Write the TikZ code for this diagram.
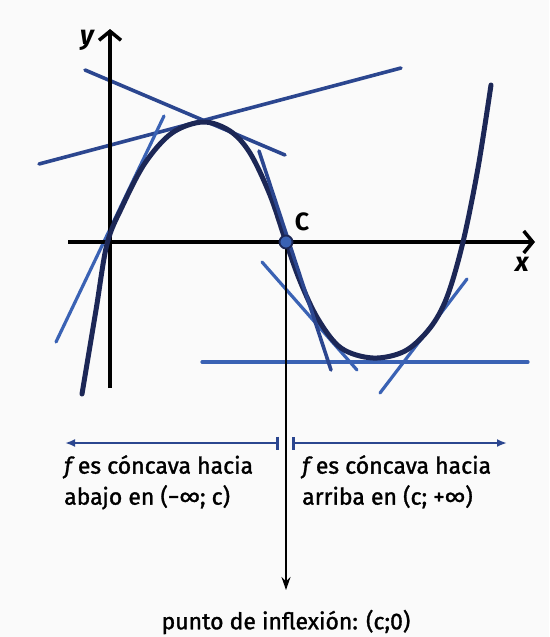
\documentclass[tikz,border=0pt]{standalone}
\usepackage{fontspec}
\setmainfont{Fira Sans}
\newfontfamily\medfont{Fira Sans}[FakeBold=1.3]
\usetikzlibrary{arrows.meta}
\definecolor{navy}{HTML}{1C2756}
\definecolor{tandark}{HTML}{2B468F}
\definecolor{tanlight}{HTML}{3A62B4}
\definecolor{bg}{HTML}{FAFAFA}
\tikzset{
  axis/.style={line width=3.5pt, black, -{Straight Barb[length=9pt,width=22pt,line width=3.5pt]}},
  curve/.style={line width=5pt, navy, line cap=round},
  tangentdark/.style={line width=3.6pt, tandark, line cap=round},
  tangentlight/.style={line width=3.2pt, tanlight, line cap=round},
  interval/.style={line width=2.6pt, tandark},
  label/.style={font=\medfont\fontsize{23}{31}\selectfont, inner sep=0pt, align=left, text=black},
  axlabel/.style={font=\fontsize{27}{27}\selectfont\bfseries\itshape, inner sep=0pt},
}
\begin{document}
\begin{tikzpicture}[x=1pt,y=-1pt]
\fill[bg] (0,0) rectangle (549,637);
\useasboundingbox (0,0) rectangle (549,637);
% named coordinates
\coordinate (ybot) at (110,388);
\coordinate (ytop) at (110,29);
\coordinate (xleft) at (68,242);
\coordinate (xright) at (535,242);
\coordinate (T1a) at (85,70);   \coordinate (T1b) at (285,155);
\coordinate (T2a) at (39,164);  \coordinate (T2b) at (401,68);
\coordinate (T3a) at (164,116); \coordinate (T3b) at (56,342);
\coordinate (T4a) at (259,151); \coordinate (T4b) at (331,370);
\coordinate (T5a) at (262,262); \coordinate (T5b) at (357,370);
\coordinate (T6a) at (202,362); \coordinate (T6b) at (528,362);
\coordinate (T7a) at (380,393); \coordinate (T7b) at (467,279);
\coordinate (Lend) at (65,443); \coordinate (Lbar) at (279,443);
\coordinate (Rbar) at (292,443); \coordinate (Rend) at (507,443);
\coordinate (arrowtip) at (286,590);
% tangents
\draw[tangentdark] (T1a) -- (T1b);
\draw[tangentdark] (T2a) -- (T2b);
\draw[tangentlight] (T3a) -- (T3b);
\draw[tangentlight] (T5a) -- (T5b);
\draw[tangentlight] (T6a) -- (T6b);
\draw[tangentlight] (T7a) -- (T7b);
% axes
\draw[axis] (ybot) -- (ytop);
\draw[axis] (xleft) -- (xright);
\node[axlabel] (ylab) at (87,40) {y};
\node[axlabel] (xlab) at (522,264) {x};
% curve
\draw[curve] plot[smooth, tension=0.55] coordinates {
 (82,394) (96,310) (107,244) (122,207) (145,163) (172,133) (203,122)
 (230,131) (250,153) (270,195) (286,242) (300,281) (318,319) (341,348)
 (373,358) (405,351) (430,328) (447,297) (463,242) (478,168) (491,85)};
\draw[tangentdark] (T4a) -- (T4b);
% inflection point
\draw[black, line width=1.8pt, -{Stealth[length=13pt,width=9pt]}] (286,242) -- (arrowtip);
\node[circle, draw=navy, fill=tanlight, line width=1.8pt, minimum size=13pt, inner sep=0pt] (C) at (286,242) {};
\node[font=\fontsize{25}{25}\selectfont\bfseries, inner sep=0pt] (Clab) at (302,222) {C};
% intervals
\draw[interval, {Latex[length=10pt,width=8pt]}-{Bar[width=13pt]}] (Lend) -- (Lbar);
\draw[interval, {Bar[width=13pt]}-{Latex[length=10pt,width=8pt]}] (Rbar) -- (Rend);
% texts
\node[label, anchor=north west] (ltext) at (64,455) {{\itshape f} es cóncava hacia\\abajo en (−∞; c)};
\node[label, anchor=north west] (rtext) at (302,455) {{\itshape f} es cóncava hacia\\arriba en (c; +∞)};
\node[label, anchor=center] (ptext) at (286,622) {punto de inflexión: (c;0)};
\end{tikzpicture}
\end{document}
